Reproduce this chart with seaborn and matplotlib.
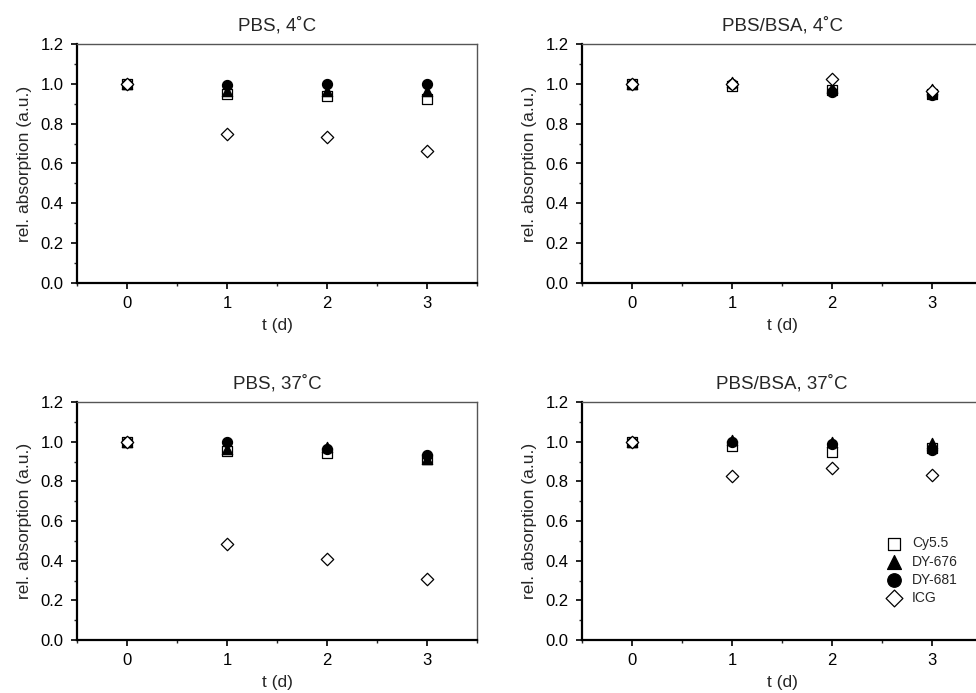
import matplotlib
matplotlib.use("Agg")
import matplotlib.pyplot as plt
import seaborn as sns
import pandas as pd
from matplotlib.ticker import MultipleLocator, FormatStrFormatter

sns.set_theme(style="white")
plt.rcParams['font.family'] = ['Liberation Sans', 'DejaVu Sans']

days = [0, 1, 2, 3]
series = ["Cy5.5", "DY-676", "DY-681", "ICG"]
titles = ["PBS, 4˚C", "PBS/BSA, 4˚C", "PBS, 37˚C", "PBS/BSA, 37˚C"]

pbs4_cy55 = [1.0, 0.95, 0.938, 0.925]
pbs4_dy676 = [1.0, 0.965, 0.965, 0.965]
pbs4_dy681 = [1.0, 0.995, 0.997, 1.0]
pbs4_icg = [1.0, 0.75, 0.735, 0.663]

bsa4_cy55 = [1.0, 0.99, 0.97, 0.95]
bsa4_dy676 = [1.0, 1.01, 0.98, 0.975]
bsa4_dy681 = [1.0, 1.0, 0.96, 0.945]
bsa4_icg = [1.0, 1.0, 1.025, 0.962]

pbs37_cy55 = [1.0, 0.955, 0.945, 0.915]
pbs37_dy676 = [1.0, 0.965, 0.975, 0.915]
pbs37_dy681 = [1.0, 1.0, 0.965, 0.934]
pbs37_icg = [1.0, 0.482, 0.407, 0.307]

bsa37_cy55 = [1.0, 0.98, 0.95, 0.97]
bsa37_dy676 = [1.0, 1.01, 1.0, 0.995]
bsa37_dy681 = [1.0, 1.0, 0.99, 0.96]
bsa37_icg = [1.0, 0.829, 0.868, 0.833]

panels = [
    [pbs4_cy55, pbs4_dy676, pbs4_dy681, pbs4_icg],
    [bsa4_cy55, bsa4_dy676, bsa4_dy681, bsa4_icg],
    [pbs37_cy55, pbs37_dy676, pbs37_dy681, pbs37_icg],
    [bsa37_cy55, bsa37_dy676, bsa37_dy681, bsa37_icg],
]

styles = {
    "Cy5.5": dict(marker="s", facecolor="white", s=42),
    "DY-676": dict(marker="^", facecolor="black", s=55),
    "DY-681": dict(marker="o", facecolor="black", s=52),
    "ICG": dict(marker="D", facecolor="white", s=40),
}

fig = plt.figure(figsize=(9.76, 6.93), dpi=100)
W = 400 / 976
pos = [
    (77 / 976, (693 - 283) / 693, W, 239 / 693),
    (582 / 976, (693 - 283) / 693, W, 239 / 693),
    (77 / 976, (693 - 640) / 693, W, 238 / 693),
    (582 / 976, (693 - 640) / 693, W, 238 / 693),
]

for i, (p, title, vals) in enumerate(zip(pos, titles, panels)):
    ax = fig.add_axes(p)
    for name, yv in zip(series, vals):
        df = pd.DataFrame({"t": days, "v": yv})
        st = styles[name]
        sns.scatterplot(data=df, x="t", y="v", ax=ax, marker=st["marker"],
                        s=st["s"], facecolor=st["facecolor"], edgecolor="black",
                        linewidth=0.9, label=name if i == 3 else None, zorder=3)
    ax.set_xlim(-0.5, 3.5)
    ax.set_ylim(0, 1.2)
    ax.xaxis.set_major_locator(MultipleLocator(1))
    ax.xaxis.set_minor_locator(MultipleLocator(0.5))
    ax.yaxis.set_major_locator(MultipleLocator(0.2))
    ax.yaxis.set_minor_locator(MultipleLocator(0.1))
    ax.yaxis.set_major_formatter(FormatStrFormatter("%.1f"))
    ax.tick_params(which="major", direction="out", length=4.5, width=1.2,
                   labelsize=12, colors="black", bottom=True, left=True, pad=5)
    ax.tick_params(which="minor", direction="out", length=2.5, width=1.0,
                   bottom=True, left=True)
    for side in ["left", "bottom"]:
        ax.spines[side].set_color("black")
        ax.spines[side].set_linewidth(1.6)
    for side in ["top", "right"]:
        ax.spines[side].set_color("#555555")
        ax.spines[side].set_linewidth(1.0)
    ax.set_title(title, fontsize=13.5, pad=10)
    ax.set_xlabel("t (d)", fontsize=12.5, labelpad=5)
    ax.set_ylabel("rel. absorption (a.u.)", fontsize=12.5, labelpad=6)
    if i == 3:
        ax.legend(loc="upper left", bbox_to_anchor=(0.7625, 0.435),
                  frameon=False, fontsize=10, handletextpad=0.8,
                  labelspacing=0.3, borderaxespad=0, borderpad=0,
                  handlelength=1.0, markerscale=1.35)
    else:
        if ax.get_legend():
            ax.get_legend().remove()

fig.savefig("out.png", dpi=100)
